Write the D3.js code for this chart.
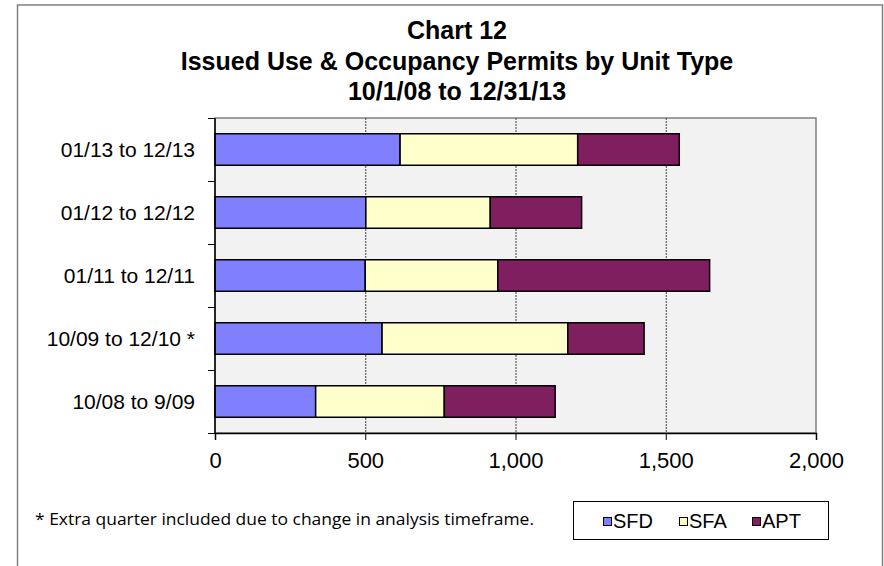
<!DOCTYPE html>
<html>
<head>
<meta charset="utf-8">
<script src="https://cdn.jsdelivr.net/npm/d3@7"></script>
<style>
    body { margin: 0; background: #fff; }
    svg { display: block; }
    text { font-family: "Liberation Sans", Arial, sans-serif; fill: #000; }
    text.note { font-family: "Open Sans", sans-serif; }
</style>
</head>
<body>
<script>
// Data
var periods = ['01/13 to 12/13', '01/12 to 12/12', '01/11 to 12/11', '10/09 to 12/10 *', '10/08 to 9/09'];
var unitTypes = ['SFD', 'SFA', 'APT'];
var sfdValues = [616, 502, 500, 556, 335];
var sfaValues = [591, 414, 441, 618, 428];
var aptValues = [338, 304, 705, 254, 369];
var tickValues = [0, 500, 1000, 1500, 2000];
var titleLines = ['Chart 12', 'Issued Use & Occupancy Permits by Unit Type', '10/1/08 to 12/31/13'];
var footnote = '* Extra quarter included due to change in analysis timeframe.';

var colors = { SFD: '#8080ff', SFA: '#ffffcc', APT: '#7f1f5f' };

var width = 884,
    height = 566,
    plot = { left: 215, right: 816, top: 118, bottom: 433 };

var rows = periods.map(function (p, i) {
    return { period: p, SFD: sfdValues[i], SFA: sfaValues[i], APT: aptValues[i] };
});

var svg = d3.select('body').append('svg')
    .attr('width', width)
    .attr('height', height);

// outer chart frame (bottom edge runs off the picture)
svg.append('rect')
    .attr('x', 17.5)
    .attr('y', 5)
    .attr('width', 865)
    .attr('height', 620)
    .attr('fill', 'none')
    .attr('stroke', '#808080')
    .attr('stroke-width', 1.5);

var x = d3.scaleLinear()
    .domain([0, 2000])
    .range([plot.left, plot.right]);

var y = d3.scaleBand()
    .domain(periods)
    .range([plot.top, plot.bottom])
    .paddingInner(0.5)
    .paddingOuter(0.25);

// plot background
svg.append('rect')
    .attr('x', plot.left)
    .attr('y', plot.top)
    .attr('width', plot.right - plot.left)
    .attr('height', plot.bottom - plot.top)
    .attr('fill', '#f2f2f2')
    .attr('stroke', '#808080')
    .attr('stroke-width', 1.5);

// vertical gridlines
svg.append('g')
    .selectAll('line')
    .data(tickValues.filter(v => v > 0 && v < 2000))
    .enter().append('line')
    .attr('x1', d => x(d) + 0.5)
    .attr('x2', d => x(d) + 0.5)
    .attr('y1', plot.top)
    .attr('y2', plot.bottom)
    .attr('stroke', '#444')
    .attr('stroke-width', 1)
    .attr('stroke-dasharray', '2,1');

// stacked bars
var stack = d3.stack().keys(unitTypes);
var series = stack(rows);

svg.append('g')
    .selectAll('g')
    .data(series)
    .enter().append('g')
    .attr('fill', d => colors[d.key])
    .selectAll('rect')
    .data(d => d)
    .enter().append('rect')
    .attr('x', d => x(d[0]))
    .attr('y', d => y(d.data.period))
    .attr('width', d => x(d[1]) - x(d[0]))
    .attr('height', y.bandwidth())
    .attr('stroke', '#000')
    .attr('stroke-width', 1.5);

// x axis
var xAxis = d3.axisBottom(x)
    .tickValues(tickValues)
    .tickFormat(d3.format(','))
    .tickSize(7)
    .tickPadding(12);

var xg = svg.append('g')
    .attr('transform', 'translate(0,' + plot.bottom + ')')
    .call(xAxis);
xg.select('.domain').attr('stroke', '#000').attr('stroke-width', 1.5);
xg.selectAll('.tick line').attr('stroke', '#000');
xg.selectAll('.tick text')
    .attr('font-size', 22);

// y axis: ticks sit on the category boundaries
var boundaries = periods.map(function (p) {
    return y(p) - y.step() * y.paddingInner() / 2;
}).concat([plot.bottom]);

var yg = svg.append('g');
yg.append('line')
    .attr('x1', plot.left)
    .attr('x2', plot.left)
    .attr('y1', plot.top)
    .attr('y2', plot.bottom)
    .attr('stroke', '#000')
    .attr('stroke-width', 1.5);
yg.selectAll('.ytick')
    .data(boundaries)
    .enter().append('line')
    .attr('class', 'ytick')
    .attr('x1', plot.left - 7)
    .attr('x2', plot.left)
    .attr('y1', d => Math.round(d) + 0.5)
    .attr('y2', d => Math.round(d) + 0.5)
    .attr('stroke', '#000');
yg.selectAll('.ylabel')
    .data(periods)
    .enter().append('text')
    .attr('class', 'ylabel')
    .attr('x', 195)
    .attr('y', d => y(d) + y.bandwidth() / 2)
    .attr('dy', '0.36em')
    .attr('text-anchor', 'end')
    .attr('font-size', 21)
    .text(d => d);

// title
svg.append('g')
    .selectAll('text')
    .data(titleLines)
    .enter().append('text')
    .attr('x', 457)
    .attr('y', (d, i) => 39 + i * 30.5)
    .attr('text-anchor', 'middle')
    .attr('font-size', 25)
    .attr('font-weight', 'bold')
    .text(d => d);

// footnote
svg.append('text')
    .attr('class', 'note')
    .attr('x', 35)
    .attr('y', 525)
    .attr('font-size', 17)
    .attr('textLength', 499)
    .attr('lengthAdjust', 'spacingAndGlyphs')
    .text(footnote);

// legend
var legend = svg.append('g');
legend.append('rect')
    .attr('x', 573.5)
    .attr('y', 501.5)
    .attr('width', 255)
    .attr('height', 38)
    .attr('fill', '#fff')
    .attr('stroke', '#000');

var legendX = d3.scaleOrdinal()
    .domain(unitTypes)
    .range([603, 679, 752]);

var item = legend.selectAll('.item')
    .data(unitTypes)
    .enter().append('g')
    .attr('class', 'item')
    .attr('transform', d => 'translate(' + legendX(d) + ',521)');
item.append('rect')
    .attr('x', 0.5)
    .attr('y', -3.5)
    .attr('width', 8)
    .attr('height', 8)
    .attr('fill', d => colors[d])
    .attr('stroke', '#000');
item.append('text')
    .attr('x', 10)
    .attr('dy', '0.36em')
    .attr('font-size', 20)
    .text(d => d);
</script>
</body>
</html>
